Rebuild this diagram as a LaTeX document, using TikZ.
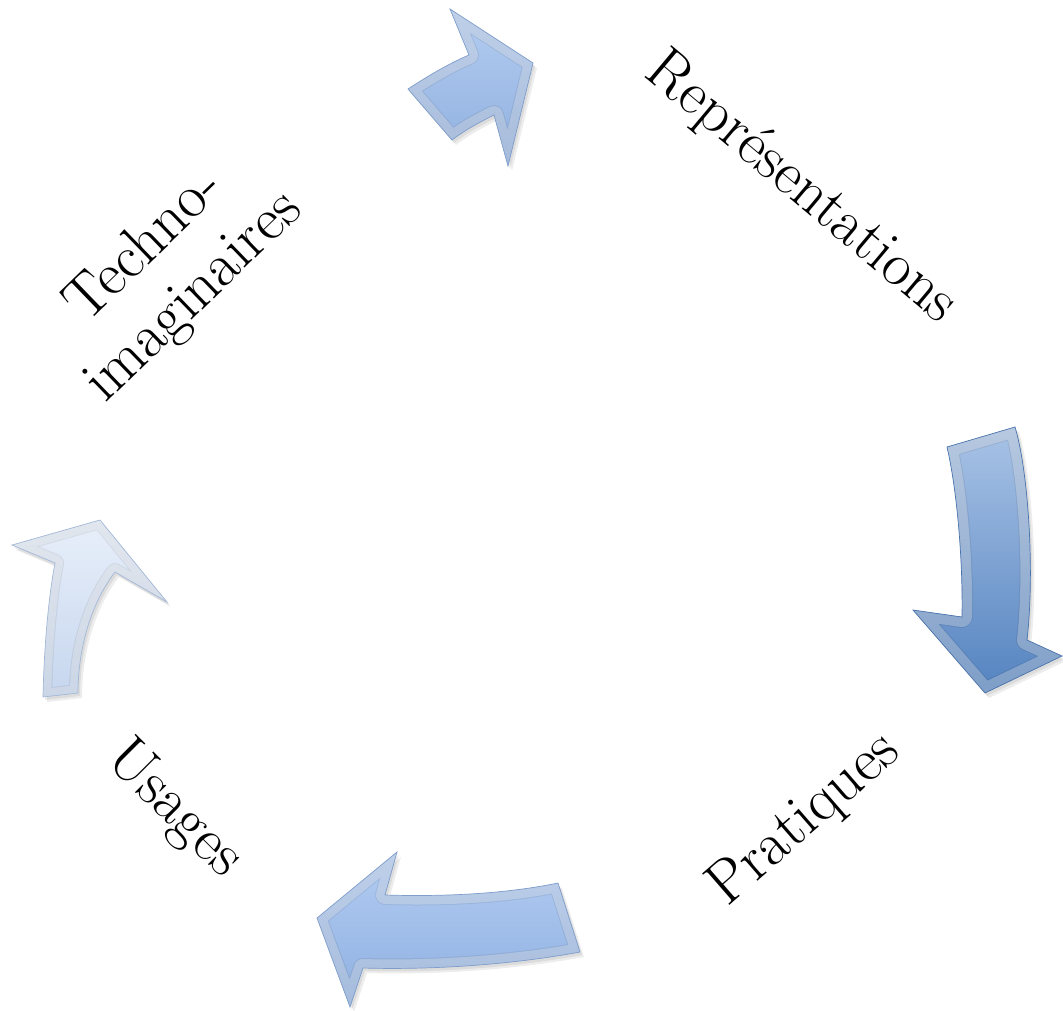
\documentclass[tikz,border=0pt]{standalone}
\usepackage{fontspec}
\definecolor{aAtop}{HTML}{B4CDF1}
\definecolor{aAbot}{HTML}{8FAFDF}
\definecolor{aBtop}{HTML}{A9C3E6}
\definecolor{aBbot}{HTML}{5483C0}
\definecolor{aCtop}{HTML}{B3CDF3}
\definecolor{aCbot}{HTML}{8EAFE0}
\definecolor{aDtop}{HTML}{E8EFFA}
\definecolor{aDbot}{HTML}{C6D6EE}
\definecolor{edgeA}{HTML}{7E9DCB}
\definecolor{edgeB}{HTML}{4A74AD}
\definecolor{edgeD}{HTML}{A3B8D8}
\begin{document}
\begin{tikzpicture}[x=1pt,y=-1pt,
  lbl/.style={font=\fontsize{61}{70}\selectfont\addfontfeatures{LetterSpace=5,FakeBold=0.7}, text=black, inner sep=0pt, align=center}]
\useasboundingbox[fill=white] (0,0) rectangle (1063,1010);
\def\arrowA{(408,89) .. controls (428,76) and (448,64) .. (469,55) -- (450,9) -- (533,63) -- (508,166) -- (494,115) .. controls (480,122) and (465,130) .. (452,140) -- cycle}
\def\arrowB{(947,447) -- (1015,427) .. controls (1028,470) and (1035,570) .. (1027,640) -- (1062,656) -- (985,693) -- (913,610) -- (962,617) .. controls (963,560) and (957,490) .. (947,447) -- cycle}
\def\arrowC{(558,883) -- (580,952) .. controls (510,965) and (430,970) .. (363,968) -- (350,1007) -- (317,918) -- (397,852) -- (385,895) .. controls (450,897) and (510,893) .. (558,883) -- cycle}
\def\arrowD{(43,697) -- (78,693) .. controls (78,650) and (90,605) .. (115,572) -- (167,602) -- (100,520) -- (12,545) -- (55,563) .. controls (48,600) and (44,650) .. (43,697) -- cycle}
\newcommand\bevelarrow[6]{%
  \fill[black,opacity=.07,shift={(4,5)}] #1;
  \fill[black,opacity=.07,shift={(2,3)}] #1;
  \shade[top color=#2,bottom color=#3,shading angle=#4] #1;
  \begin{scope}
    \clip #1;
    \draw[line width=#5*2+2pt,black,opacity=.07,line join=round] #1;
    \draw[line width=#5*2,white,opacity=.28,line join=round] #1;
  \end{scope}
  \draw[#6,line width=.7pt,line join=miter] #1;
}
\bevelarrow{\arrowA}{aAtop}{aAbot}{0}{9pt}{edgeA}
\bevelarrow{\arrowB}{aBtop}{aBbot}{0}{10pt}{edgeB}
\bevelarrow{\arrowC}{aCtop}{aCbot}{0}{9pt}{edgeA}
\bevelarrow{\arrowD}{aDtop}{aDbot}{0}{8pt}{edgeD}
\node[lbl,rotate=-40] (rep) at (801,188) {Représentations};
\node[lbl,rotate=41] (pra) at (805,820) {Pratiques};
\node[lbl,rotate=-45] (usa) at (174,810) {Usages};
\node[lbl,rotate=44] (tec) at (170,272) {Techno-\\imaginaires};
\end{tikzpicture}
\end{document}
